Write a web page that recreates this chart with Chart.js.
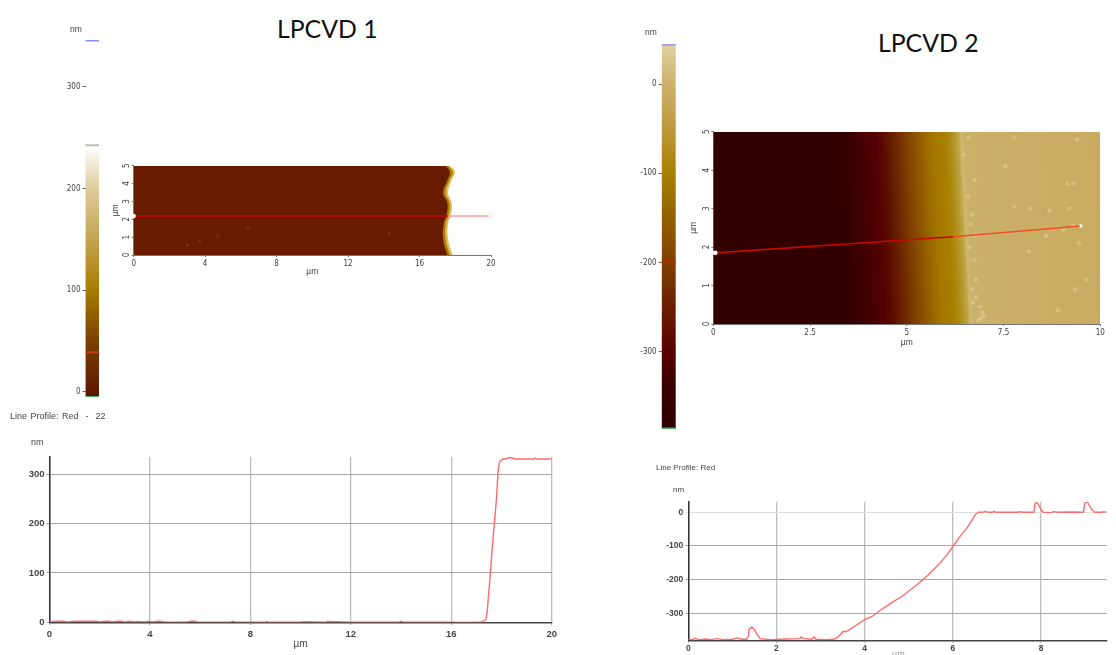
<!DOCTYPE html>
<html>
<head>
<meta charset="utf-8">
<title>LPCVD</title>
<script src="https://cdn.jsdelivr.net/npm/chart.js@4/dist/chart.umd.min.js"></script>
<style>
	html, body { margin: 0; padding: 0; width: 1116px; height: 655px; overflow: hidden; background: #fff; }
	canvas { position: absolute; filter: blur(0.45px); }
	.title { position: absolute; font-family: Lato, sans-serif; font-size: 24.8px; color: #111; line-height: 30px; white-space: nowrap; }
	.small { position: absolute; font-family: "Liberation Sans", sans-serif; color: #444; white-space: nowrap; filter: blur(0.35px); }
</style>
</head>
<body>
<div class="title" style="left:277px;top:14px">LPCVD 1</div>
<div class="title" style="left:878px;top:28px">LPCVD 2</div>
<div class="small" style="left:70px;top:24px;font-size:8.5px">nm</div>
<div class="small" style="left:645px;top:27px;font-size:8.5px">nm</div>
<div class="small" style="left:10px;top:411px;font-size:9px;word-spacing:1px">Line Profile: Red &nbsp;- &nbsp;22</div>
<div class="small" style="left:31px;top:437px;font-size:9px">nm</div>
<div class="small" style="left:656px;top:463px;font-size:8px">Line Profile: Red</div>
<div class="small" style="left:673px;top:485px;font-size:8px">nm</div>
<div class="small" style="left:892px;top:649px;font-size:9px;color:#999">µm</div>

<canvas id="bar1"></canvas>
<canvas id="map1"></canvas>
<canvas id="prof1"></canvas>
<canvas id="bar2"></canvas>
<canvas id="map2"></canvas>
<canvas id="prof2"></canvas>

<script>
// Line profile 1 (um, nm)
var prof1X = [0, 0.3, 0.6, 0.7, 1.0, 1.5, 1.9, 2.0, 2.2, 2.4, 2.5, 2.7, 2.9, 3.0, 3.1, 3.3, 3.4, 3.5, 3.8, 3.9, 4.1, 4.3, 4.4, 4.6, 5.0, 5.5, 5.6, 5.8, 5.9, 6.5, 7.2, 7.3, 7.4, 8.0, 8.6, 8.65, 8.7, 10.0, 10.1, 11.0, 11.05, 12.0, 13.9, 14.0, 14.1, 15.0, 16.0, 16.5, 17.18, 17.37, 17.43, 17.54, 17.62, 17.72, 17.80, 17.86, 17.92, 18.05, 18.19, 18.29, 18.41, 18.53, 19.3, 19.35, 19.4, 20];
var prof1Y = [1, 2, 2, 0.5, 2, 2, 2, 0.5, 2, 2, 0.5, 2, 2, 0.5, 2, 1.5, 0.5, 1.5, 0.5, 2, 0.5, 2, 2, 0.5, 0.3, 0.5, 2, 2, 0.3, 0, 0.3, 2, 0.3, 0, 0, 2, 0, 0, 1, 0, 1.5, 0, 0, 2, 0, 0, 0, -0.5, 0, 5, 22, 89, 143, 204, 250, 304, 325, 331, 331, 334, 333, 331, 331, 333, 331, 331];

// Line profile 2 (um, nm)
var prof2X = [0, 0.1, 0.15, 0.25, 0.4, 0.5, 0.65, 0.8, 1.0, 1.12, 1.2, 1.32, 1.36, 1.38, 1.44, 1.49, 1.55, 1.63, 1.70, 1.9, 2.2, 2.53, 2.56, 2.61, 2.80, 2.85, 2.90, 3.1, 3.30, 3.40, 3.51, 3.59, 4.01, 4.16, 4.42, 4.65, 4.84, 5.18, 5.44, 5.67, 5.86, 6.01, 6.16, 6.35, 6.50, 6.58, 6.69, 6.73, 6.80, 6.90, 6.93, 6.98, 7.48, 7.52, 7.6, 7.84, 7.86, 7.89, 7.93, 7.97, 8.03, 8.05, 8.24, 8.27, 8.4, 8.7, 8.96, 8.99, 9.02, 9.06, 9.11, 9.17, 9.22, 9.38, 9.41, 9.49];
var prof2Y = [-377, -378, -374, -378, -376, -378, -375, -378, -377, -373, -377, -377, -369, -347, -341, -346, -361, -375, -376, -378, -376, -375, -370, -375, -377, -370, -377, -378, -377, -370, -354, -354, -318, -310, -285, -265, -250, -216, -186, -156, -127, -100, -72, -41, -8, 0, 0, 3, 0, 0, 3, 0, 0, 2, 0, 0, 24, 29, 26, 15, 3, 0, -1, 2, 0, 1, 0, 26, 31, 29, 16, 6, 0, 0, 2, 0];

var prof1XTicks = [0, 4, 8, 12, 16, 20];
var prof1YTicks = [0, 100, 200, 300];
var prof2XTicks = [0, 2, 4, 6, 8];
var prof2YTicks = [-300, -200, -100, 0];

// Colour scales: height (nm) and colour of each stop
var bar1Stops = [-5, 0, 50, 100, 150, 200, 242];
var bar1Colors = ['#5a1400', '#5e1a00', '#7c4000', '#a87c00', '#c4a350', '#dfcc9c', '#ffffff'];
var bar1Range = [-5, 242.5];
var bar1Markers = [345.5, 242.5, 39, -5];
var bar1Ticks = [0, 100, 200, 300];

var bar2Stops = [-386, -340, -300, -250, -200, -150, -100, -50, 0, 44];
var bar2Colors = ['#300000', '#360000', '#580000', '#6a1e00', '#804000', '#946000', '#a88000', '#bb9a3c', '#cdb26c', '#e2d0a0'];
var bar2Range = [-386.7, 44.5];
var bar2Markers = [44, -199, -386];
var bar2Ticks = [-300, -200, -100, 0];

// Height map 1: edge position (um) of the step along the scan axis
var map1EdgeY = [0, 0.9, 1.79, 2.2, 2.91, 3.47, 4.2, 4.65, 5];
var map1Edges = [
	[17.55, 17.32, 17.36, 17.50, 17.56, 17.32, 17.56, 17.70, 17.46],
	[17.70, 17.46, 17.48, 17.62, 17.68, 17.46, 17.68, 17.86, 17.60],
	[17.85, 17.60, 17.60, 17.75, 17.80, 17.60, 17.80, 17.98, 17.70]
];
var map1Colors = ['#681b00', '#a87c00', '#e0bc60'];
var map1SpeckX = [3.0, 3.7, 4.7, 6.4, 14.3];
var map1SpeckY = [0.55, 0.8, 1.08, 1.55, 1.2];
var map1LineX = [0, 17.6];
var map1LineEndX = [17.6, 19.9];
var map1LineY = 2.18;
var map1XTicks = [0, 4, 8, 12, 16, 20];
var map1YTicks = [0, 1, 2, 3, 4, 5];

// Height map 2: colour against position across the step, the step leans over by map2Lean um from y=0 to y=5
var map2StopX = [0, 3.35, 3.75, 4.03, 4.3, 4.48, 4.65, 4.82, 4.97, 5.13, 5.3, 5.47, 5.63, 5.83, 6.08, 6.23, 6.37, 6.47, 6.52, 6.62, 10];
var map2StopColors = ['#330000', '#330000', '#3c0000', '#480000', '#540000', '#5a0a00', '#631800', '#6c2600', '#763400', '#804200', '#8a5000', '#945e00', '#9c6c00', '#a47800', '#a88000', '#ad8a10', '#b69a30', '#c2a850', '#d0b870', '#cbb068', '#c9ab60'];
var map2Lean = 0.26;
var map2FillX = [10, 10];
var map2FillY = [0, 5];
var map2SpeckX = [6.6, 6.46, 6.75, 6.58, 6.7, 6.65, 6.75, 6.75, 6.78, 6.8, 6.9, 7.0, 6.9, 7.78, 7.55, 7.78, 8.2, 8.68, 9.15, 9.3, 9.3, 9.4, 8.6, 8.15, 9.05, 9.45, 9.65, 9.35, 8.9, 9.2, 6.7, 6.72, 6.95, 6.85, 6.62];
var map2SpeckY = [4.85, 4.4, 3.75, 3.3, 2.85, 2.6, 2.3, 1.65, 1.15, 0.7, 0.45, 0.2, 0.15, 4.85, 4.1, 3.05, 3.0, 2.95, 3.65, 3.65, 2.55, 4.8, 2.3, 1.9, 2.45, 2.1, 1.15, 0.9, 0.35, 3.0, 0.9, 0.55, 0.3, 0.1, 2.0];
var map2LineX = [0.05, 6.2];
var map2LineY = [1.85, 2.27];
var map2LineEndX = [6.2, 9.5];
var map2LineEndY = [2.27, 2.55];
var map2XTicks = [0, 2.5, 5, 7.5, 10];
var map2YTicks = [0, 1, 2, 3, 4, 5];

var tickFont = { family: '"DejaVu Sans Condensed", "Liberation Sans", sans-serif', size: 8 };
var tickColor = '#444';

function pairs(xs, ys) {
	return xs.map(function(x, i) { return { x: x, y: ys[i] }; });
}

// size the canvas so the plot area lands on the wanted box, margins get adjusted for whole pixels
function place(id, area, margin) {
	var el = document.getElementById(id);
	var left = Math.floor(area.l - margin.left);
	var top = Math.floor(area.t - margin.top);
	var right = Math.ceil(area.r + margin.right);
	var bottom = Math.ceil(area.b + margin.bottom);
	margin.left = area.l - left;
	margin.top = area.t - top;
	margin.right = right - area.r;
	margin.bottom = bottom - area.b;
	el.width = right - left;
	el.height = bottom - top;
	el.style.width = (right - left) + 'px';
	el.style.height = (bottom - top) + 'px';
	el.style.left = left + 'px';
	el.style.top = top + 'px';
	return el;
}

function fixedTicks(list) {
	return function(scale) {
		scale.ticks = list.map(function(v) { return { value: v }; });
	};
}

function baseOptions(margin) {
	return {
		responsive: false,
		animation: false,
		events: [],
		layout: { autoPadding: false, padding: { top: margin.top, right: margin.right, left: 0, bottom: 0 } },
		plugins: { legend: { display: false }, tooltip: { enabled: false }, title: { display: false } }
	};
}

function colorBar(id, area, margin, stops, colors, range, markers, ticks, yMin, yMax, markerColors, thick) {
	var datasets = markers.map(function(v, i) {
		return { data: [[v - thick / 2, v + thick / 2]], backgroundColor: markerColors[i], barPercentage: 1, categoryPercentage: 1 };
	});
	datasets.push({
		data: [range],
		barPercentage: 1,
		categoryPercentage: 1,
		backgroundColor: function(ctx) {
			var s = ctx.chart.scales.y;
			if (!s) return colors[0];
			var y0 = s.getPixelForValue(stops[0]);
			var y1 = s.getPixelForValue(stops[stops.length - 1]);
			if (!isFinite(y0) || !isFinite(y1)) return colors[0];
			var g = ctx.chart.ctx.createLinearGradient(0, y0, 0, y1);
			stops.forEach(function(v, i) {
				g.addColorStop((v - stops[0]) / (stops[stops.length - 1] - stops[0]), colors[i]);
			});
			return g;
		}
	});
	var el = place(id, area, margin);
	var opts = baseOptions(margin);
	opts.scales = {
		x: { stacked: true, display: false, afterFit: function(s) { s.height = margin.bottom; } },
		y: {
			min: yMin,
			max: yMax,
			afterBuildTicks: fixedTicks(ticks),
			afterFit: function(s) { s.width = margin.left; },
			border: { display: false },
			grid: { drawOnChartArea: false, color: '#666', tickLength: 3 },
			ticks: { font: tickFont, color: tickColor, padding: 2, autoSkip: false, callback: function(v) { return String(v); } }
		}
	};
	return new Chart(el, { type: 'bar', data: { labels: ['nm'], datasets: datasets }, options: opts });
}

function mapChart(id, area, margin, xMax, xTicks, yTicks, datasets) {
	var el = place(id, area, margin);
	var opts = baseOptions(margin);
	opts.indexAxis = 'y';
	opts.elements = { point: { radius: 0 } };
	opts.scales = {
		x: {
			type: 'linear',
			min: 0,
			max: xMax,
			afterBuildTicks: fixedTicks(xTicks),
			afterFit: function(s) { s.height = margin.bottom; },
			border: { color: '#777', width: 1 },
			grid: { drawOnChartArea: false, color: '#777', tickLength: 2 },
			ticks: { font: tickFont, color: tickColor, padding: 2, maxRotation: 0, autoSkip: false, callback: function(v) { return String(v); } },
			title: { display: true, text: 'µm', font: { family: '"Liberation Sans", sans-serif', size: 8.5 }, color: tickColor, padding: 0 }
		},
		y: {
			type: 'linear',
			min: 0,
			max: 5,
			afterBuildTicks: fixedTicks(yTicks),
			afterFit: function(s) { s.width = margin.left; },
			border: { color: '#777', width: 1 },
			grid: { drawOnChartArea: false, color: '#777', tickLength: 2 },
			ticks: { font: tickFont, color: tickColor, padding: 2, minRotation: 90, maxRotation: 90, crossAlign: 'center', autoSkip: false, callback: function(v) { return String(v); } },
			title: { display: true, text: 'µm', font: { family: '"Liberation Sans", sans-serif', size: 8.5 }, color: tickColor, padding: 0 }
		}
	};
	return new Chart(el, { type: 'line', data: { datasets: datasets }, options: opts });
}

function edgeDatasets(edges, edgeY, colors) {
	return edges.map(function(xs, i) {
		return { data: pairs(xs, edgeY), borderWidth: 0, borderColor: colors[i], backgroundColor: colors[i], fill: 'origin', pointRadius: 0, tension: 0.45 };
	});
}

function specks(xs, ys, color, radius) {
	return { data: pairs(xs, ys), showLine: false, pointRadius: radius, pointBorderWidth: 0, pointBackgroundColor: color };
}

// gradient across the step of map 2, tilted so it leans with the step
function leaningFill(ctx) {
	var sx = ctx.chart.scales.x;
	var sy = ctx.chart.scales.y;
	if (!sx || !sy) return map2StopColors[0];
	var x0 = sx.getPixelForValue(0);
	var x1 = sx.getPixelForValue(10);
	var yBottom = sy.getPixelForValue(0);
	var yTop = sy.getPixelForValue(5);
	if (!isFinite(x0) || !isFinite(x1) || !isFinite(yBottom) || !isFinite(yTop) || x1 === x0) return map2StopColors[0];
	var lean = sx.getPixelForValue(map2Lean) - x0;
	var h = yBottom - yTop;
	var ux = h / Math.sqrt(h * h + lean * lean);
	var uy = -lean / Math.sqrt(h * h + lean * lean);
	var len = (x1 - x0) * ux;
	var yMid = (yBottom + yTop) / 2;
	var g = ctx.chart.ctx.createLinearGradient(x0, yMid, x0 + len * ux, yMid + len * uy);
	map2StopX.forEach(function(v, i) {
		g.addColorStop(v / 10, map2StopColors[i]);
	});
	return g;
}

function profile(id, area, margin, xs, ys, xMin, xMax, yMin, yMax, xTicks, yTicks, fontSize, labelPad, zeroSoft) {
	var font = { family: '"Liberation Sans", sans-serif', size: fontSize, weight: 'bold' };
	var el = place(id, area, margin);
	var opts = baseOptions(margin);
	opts.scales = {
		x: {
			type: 'linear',
			min: xMin,
			max: xMax,
			afterBuildTicks: fixedTicks(xTicks),
			afterFit: function(s) { s.height = margin.bottom; },
			border: { color: '#444', width: 1.5 },
			grid: { color: '#bdbdbd', lineWidth: 1.3, tickLength: 3 },
			ticks: { font: font, color: tickColor, padding: labelPad, maxRotation: 0, autoSkip: false, callback: function(v) { return String(v); } },
			title: { display: !zeroSoft, text: 'µm', font: { family: '"Liberation Sans", sans-serif', size: 10 }, color: tickColor, padding: 0 }
		},
		y: {
			min: yMin,
			max: yMax,
			afterBuildTicks: fixedTicks(yTicks),
			afterFit: function(s) { s.width = margin.left; },
			border: { color: '#333', width: 1.5 },
			grid: {
				tickLength: 3,
				lineWidth: 1,
				color: function(ctx) { return (zeroSoft && ctx.tick && ctx.tick.value === 0) ? '#dddddd' : '#a8a8a8'; }
			},
			ticks: { font: font, color: tickColor, padding: 2, autoSkip: false, callback: function(v) { return String(v); } }
		}
	};
	return new Chart(el, {
		type: 'line',
		data: { datasets: [{ data: pairs(xs, ys), borderColor: '#ff6b6b', borderWidth: 1.4, pointRadius: 0, tension: 0 }] },
		options: opts
	});
}

// colour scale, LPCVD 1
colorBar('bar1', { l: 85.5, t: 40, r: 99, b: 397 }, { left: 30, right: 2, top: 10, bottom: 8 }, bar1Stops, bar1Colors, bar1Range, bar1Markers, bar1Ticks, -5, 346, ['#8a8cf5', '#bdbdbd', '#c83a1e', '#4fb060'], 1.2);

// height map, LPCVD 1
var map1Sets = [
	{ data: pairs(map1LineX, [map1LineY, map1LineY]), borderColor: '#c40a00', borderWidth: 1.5, pointRadius: [2.2, 0], pointBackgroundColor: '#ffffff', pointBorderWidth: 0, clip: false },
	{ data: pairs(map1LineEndX, [map1LineY, map1LineY]), borderColor: '#ff9a9a', borderWidth: 1.5, pointRadius: [0, 1.8], pointBackgroundColor: '#ffffff', pointBorderColor: '#cccccc', pointBorderWidth: 0.7, clip: false },
	specks(map1SpeckX, map1SpeckY, 'rgba(140,70,0,0.55)', 1.6)
].concat(edgeDatasets(map1Edges, map1EdgeY, map1Colors));
mapChart('map1', { l: 133.7, t: 165.7, r: 491, b: 255 }, { left: 22, right: 8, top: 10, bottom: 22 }, 20, map1XTicks, map1YTicks, map1Sets);

// line profile, LPCVD 1
profile('prof1', { l: 49.5, t: 456.7, r: 553.5, b: 622.3 }, { left: 24, right: 6, top: 10, bottom: 27 }, prof1X, prof1Y, 0, 20, 0, 335.7, prof1XTicks, prof1YTicks, 9.5, 3, false);

// colour scale, LPCVD 2
colorBar('bar2', { l: 661.7, t: 44.3, r: 675.7, b: 429 }, { left: 30, right: 2, top: 10, bottom: 8 }, bar2Stops, bar2Colors, bar2Range, bar2Markers, bar2Ticks, -386.7, 44.5, ['#8a8cf5', '#c81e10', '#4fb060'], 1.2);

// height map, LPCVD 2
var map2Sets = [
	{ data: pairs(map2LineX, map2LineY), borderColor: '#c40a00', borderWidth: 1.6, pointRadius: [2.4, 0], pointBackgroundColor: '#ffffff', pointBorderWidth: 0, clip: false },
	{ data: pairs(map2LineEndX, map2LineEndY), borderColor: '#f0502a', borderWidth: 1.6, pointStyle: 'triangle', pointRotation: 90, pointRadius: [0, 2.6], pointBackgroundColor: '#ffffff', pointBorderWidth: 0, clip: false },
	specks(map2SpeckX, map2SpeckY, 'rgba(225,208,155,0.5)', 2.3),
	{ data: pairs(map2FillX, map2FillY), borderWidth: 0, backgroundColor: leaningFill, fill: 'origin', pointRadius: 0 }
];
mapChart('map2', { l: 713.3, t: 131.7, r: 1100.3, b: 324 }, { left: 24, right: 8, top: 10, bottom: 24 }, 10, map2XTicks, map2YTicks, map2Sets);

// line profile, LPCVD 2
profile('prof2', { l: 688.3, t: 501.7, r: 1106.7, b: 640.3 }, { left: 24, right: 6, top: 10, bottom: 14 }, prof2X, prof2Y, 0, 9.49, -380, 31.5, prof2XTicks, prof2YTicks, 8.5, 0, true);
</script>
</body>
</html>
